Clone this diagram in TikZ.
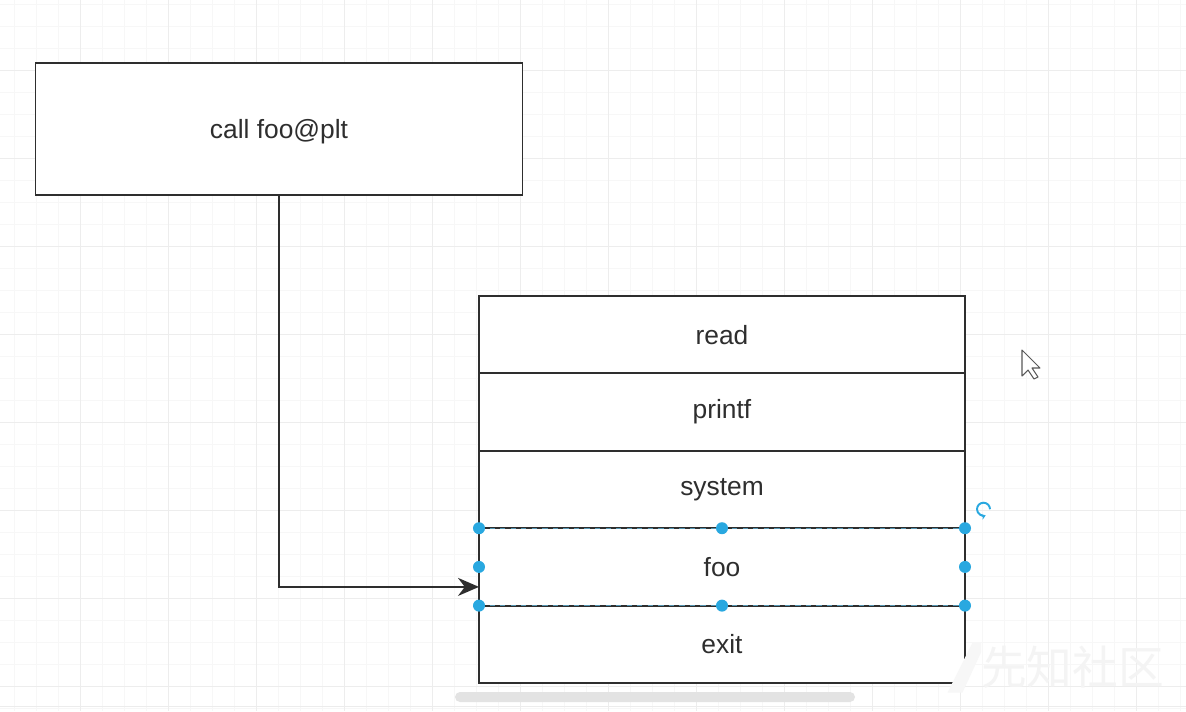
\documentclass[tikz,border=0pt]{standalone}
\usepackage{fontspec}
\setmainfont{Liberation Sans}
\newfontfamily\cjkfont{Noto Sans CJK SC}
\usetikzlibrary{shapes,arrows.meta,positioning}

\definecolor{linegray}{HTML}{2E2E2E}
\definecolor{handleblue}{HTML}{29A8E0}

\tikzset{
  cell/.style={draw=linegray, line width=1.1pt, rectangle, outer sep=0pt, minimum width=9.72cm, minimum height=1.548cm, inner sep=0pt, font=\fontsize{15}{18}\selectfont, text=linegray},
  handle/.style={circle, fill=handleblue, inner sep=0pt, minimum size=0.24cm},
}

\begin{document}
\begin{tikzpicture}[node distance=0cm, auto]
    % Canvas and grid
    \useasboundingbox (0,0) rectangle (23.72,-14.22);
    \fill[white] (0,0) rectangle (23.72,-14.22);
    \draw[gray!6, line width=0.4pt, shift={(-0.16,0.36)}] (0,0) grid[step=0.44] (23.88,-14.58);
    \draw[gray!14, line width=0.5pt, shift={(-0.16,0.36)}] (0,0) grid[step=1.76] (23.88,-14.58);

    % Nodes
    \node[cell, minimum width=9.74cm, minimum height=2.64cm, fill=white, text depth=0pt] (callbox) at (5.58,-2.58) {call foo@plt};
    \node[cell, fill=white, anchor=north west] (read) at (9.58,-5.92) {read};
    \node[cell, fill=white, below=of read] (printf) {printf};
    \node[cell, fill=white, below=of printf] (system) {system};
    \node[cell, fill=white, below=of system] (foo) {foo};
    \node[cell, fill=white, below=of foo] (exit) {exit};
    \coordinate (hit) at ([yshift=-0.4cm]foo.west);

    % Arrows
    \draw[linegray, line width=1.1pt, -{Stealth[length=0.42cm, width=0.36cm]}] (callbox.south) |- (hit);

    % Selection
    \draw[handleblue!50!gray, dashed, line width=0.6pt] (foo.north west) -- (foo.north east);
    \draw[handleblue!50!gray, dashed, line width=0.6pt] (foo.south west) -- (foo.south east);
    \foreach \a in {north west, north, north east, west, east, south west, south, south east}
        \node[handle] at (foo.\a) {};
    \draw[handleblue, line width=1.1pt, -{Stealth[length=0.09cm, width=0.12cm]}] ([shift={(0.50,0.38)}]foo.north east) arc[start angle=0, end angle=290, radius=0.13cm];

    % Cursor
    \draw[gray!70!black, fill=white, line width=0.6pt, line join=round]
        (20.44,-7.00) -- (20.44,-7.52) -- (20.56,-7.40) -- (20.68,-7.58) -- (20.76,-7.54) -- (20.64,-7.36) -- (20.80,-7.36) -- cycle;

    % Watermark
    \fill[gray!6] (18.95,-13.85) -- (19.45,-12.85) -- (19.62,-12.85) -- (19.62,-13.05) -- (19.25,-13.85) -- cycle;
    \node[text=gray!9, font=\cjkfont\fontsize{26}{30}\selectfont, anchor=west] (mark) at (19.50,-13.35) {先知社区};

    % Scrollbar
    \fill[gray!22, rounded corners=0.1cm] (9.10,-13.84) rectangle (17.10,-14.04);
    \draw[gray!15, line width=0.5pt] (0,-14.12) -- (23.72,-14.12);
\end{tikzpicture}
\end{document}
